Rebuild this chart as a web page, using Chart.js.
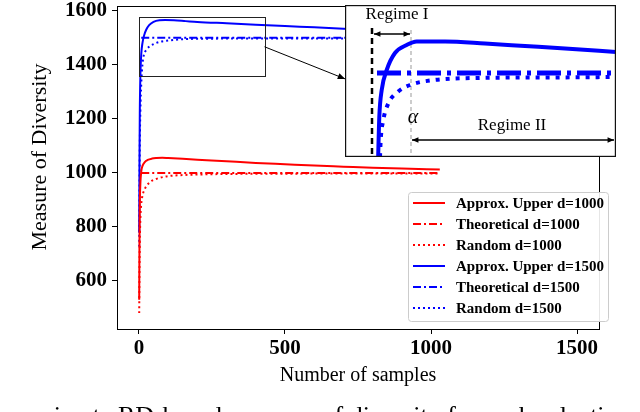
<!DOCTYPE html>
<html>
<head>
<meta charset="utf-8">
<script src="https://cdn.jsdelivr.net/npm/chart.js@4.4.0/dist/chart.umd.min.js"></script>
<style>
html,body{margin:0;padding:0;background:#fff;}
#wrap{position:relative;width:640px;height:412px;overflow:hidden;background:#fff;}
#main{position:absolute;left:0;top:0;width:640px;height:412px;}
#inset{position:absolute;left:345px;top:5px;width:271px;height:152px;background:#fff;}
</style>
</head>
<body>
<div id="wrap">
<canvas id="main" width="640" height="412"></canvas>
<canvas id="inset" width="271" height="152"></canvas>
</div>
<script>
// ---------- data ----------
const xTicks = [0, 500, 1000, 1500];
const yTicks = [600, 800, 1000, 1200, 1400, 1600];

const seriesLabels = ['Approx. Upper d=1000', 'Theoretical d=1000', 'Random d=1000',
                      'Approx. Upper d=1500', 'Theoretical d=1500', 'Random d=1500'];

const upper1000X = [1, 2, 3, 5, 8, 12, 20, 30, 45, 60, 80, 100, 150, 200, 300, 400, 500, 600, 700, 800, 900, 1030];
const upper1000Y = [530, 760, 880, 960, 1005, 1025, 1040, 1048, 1053, 1055, 1056, 1055, 1052, 1049, 1043, 1037, 1032, 1027, 1023, 1019, 1016, 1013];
const theory1000X = [8, 1030];
const theory1000Y = [1000, 1000];
const random1000X = [1, 2, 3, 5, 8, 12, 17, 25, 40, 60, 100, 150, 200, 300, 500, 700, 1030];
const random1000Y = [481, 640, 740, 830, 885, 915, 933, 950, 968, 978, 988, 992, 994, 996, 997, 998, 998];

const upper1500X = [1, 2, 3, 5, 8, 12, 18, 25, 35, 50, 70, 90, 120, 160, 200, 300, 400, 500, 600, 700, 800, 1000, 1200, 1500];
const upper1500Y = [778, 1050, 1220, 1360, 1440, 1480, 1510, 1530, 1547, 1559, 1565, 1566, 1565, 1562, 1559, 1554, 1549, 1544, 1539, 1534, 1530, 1523, 1517, 1510];
const theory1500X = [8, 1500];
const theory1500Y = [1500, 1500];
const random1500X = [1, 2, 3, 5, 8, 12, 17, 25, 35, 50, 70, 100, 150, 250, 400, 700, 1000, 1500];
const random1500Y = [727, 950, 1100, 1230, 1330, 1400, 1437, 1455, 1467, 1477, 1485, 1490, 1495, 1497, 1498, 1498, 1499, 1499];

// inset (zoomed view of d=1500 curves)
const insetUpperX = [33, 34.3, 36.7, 41.7, 50, 61.7, 71.7, 100, 140, 180, 220, 271];
const insetUpperY = [1320, 1412, 1466, 1506, 1540, 1556, 1563, 1563, 1559, 1554, 1549, 1542];
const insetTheoryX = [32, 271];
const insetTheoryY = [1500, 1500];
const insetRandomX = [35, 35.7, 38.3, 43.3, 53.3, 65, 85, 128, 200, 271];
const insetRandomY = [1332, 1366, 1406, 1439, 1463, 1476, 1485, 1490, 1491, 1492];
const insetRegimeBoundary = 27;   // black dashed line
const insetAlpha = 66;            // grey dashed line (alpha)

// ---------- styles / annotation config ----------
const SERIF = "'Liberation Serif', 'Times New Roman', serif";
const RED = '#ff0000', BLUE = '#0000ff';
const zoomRegion = { x0: 0, x1: 430, y0: 1359, y1: 1578 };
const connector = { x0: 430, y0: 1467, x1: 706, y1: 1348 };

function pairs(xs, ys) { return xs.map((v, i) => ({ x: v, y: ys[i] })); }

const styleList = [
  { color: RED, dash: [], width: 2 },
  { color: RED, dash: [8, 3, 2, 3], width: 2 },
  { color: RED, dash: [2, 3], width: 2 },
  { color: BLUE, dash: [], width: 2 },
  { color: BLUE, dash: [8, 3, 2, 3], width: 2 },
  { color: BLUE, dash: [2, 3], width: 2 }
];
const seriesData = [
  pairs(upper1000X, upper1000Y), pairs(theory1000X, theory1000Y), pairs(random1000X, random1000Y),
  pairs(upper1500X, upper1500Y), pairs(theory1500X, theory1500Y), pairs(random1500X, random1500Y)
];

const datasets = seriesLabels.map((lab, i) => ({
  label: lab,
  data: seriesData[i],
  borderColor: styleList[i].color,
  backgroundColor: styleList[i].color,
  borderWidth: styleList[i].width,
  borderDash: styleList[i].dash,
  borderCapStyle: 'butt',
  pointRadius: 0,
  fill: false,
  cubicInterpolationMode: 'monotone'
}));

function arrowHead(ctx, x0, y0, x1, y1, size) {
  const ang = Math.atan2(y1 - y0, x1 - x0);
  ctx.beginPath();
  ctx.moveTo(x1, y1);
  ctx.lineTo(x1 - size * Math.cos(ang - 0.4), y1 - size * Math.sin(ang - 0.4));
  ctx.lineTo(x1 - size * Math.cos(ang + 0.4), y1 - size * Math.sin(ang + 0.4));
  ctx.closePath();
  ctx.fill();
}

const mainDecor = {
  id: 'mainDecor',
  afterDatasetsDraw(chart) {
    const { ctx, chartArea: a, scales: { x, y } } = chart;
    ctx.save();
    // top & right frame
    ctx.strokeStyle = '#000'; ctx.lineWidth = 1; ctx.setLineDash([]);
    ctx.beginPath();
    ctx.moveTo(a.left, a.top + 0.5); ctx.lineTo(a.right + 0.5, a.top + 0.5); ctx.lineTo(a.right + 0.5, a.bottom);
    ctx.stroke();
    // zoom region rectangle
    const bx0 = x.getPixelForValue(zoomRegion.x0), bx1 = x.getPixelForValue(zoomRegion.x1);
    const by0 = y.getPixelForValue(zoomRegion.y1), by1 = y.getPixelForValue(zoomRegion.y0);
    ctx.strokeStyle = '#222';
    ctx.strokeRect(Math.round(bx0) + 0.5, Math.round(by0) + 0.5, Math.round(bx1 - bx0), Math.round(by1 - by0));
    // connector arrow
    const cx0 = x.getPixelForValue(connector.x0), cy0 = y.getPixelForValue(connector.y0);
    const cx1 = x.getPixelForValue(connector.x1), cy1 = y.getPixelForValue(connector.y1);
    ctx.strokeStyle = '#000'; ctx.fillStyle = '#000';
    ctx.beginPath(); ctx.moveTo(cx0, cy0); ctx.lineTo(cx1, cy1); ctx.stroke();
    arrowHead(ctx, cx0, cy0, cx1, cy1, 8);
    // legend
    const lx = 408, ly = 192, lw = 200, lh = 129;
    ctx.fillStyle = 'rgba(255,255,255,0.9)';
    ctx.strokeStyle = '#cccccc';
    ctx.beginPath();
    ctx.roundRect(lx + 0.5, ly + 0.5, lw, lh, 3);
    ctx.fill(); ctx.stroke();
    chart.data.datasets.forEach((ds, i) => {
      const ry = 203 + i * 21;
      ctx.strokeStyle = ds.borderColor;
      ctx.lineWidth = ds.borderWidth;
      ctx.setLineDash(ds.borderDash);
      ctx.beginPath(); ctx.moveTo(413, ry); ctx.lineTo(445, ry); ctx.stroke();
      ctx.setLineDash([]);
      ctx.fillStyle = '#000';
      ctx.font = 'bold 15px ' + SERIF;
      ctx.textAlign = 'left'; ctx.textBaseline = 'middle';
      ctx.fillText(ds.label, 456, ry + 1);
    });
    // axis titles
    ctx.fillStyle = '#000';
    ctx.font = '20px ' + SERIF;
    ctx.textAlign = 'center'; ctx.textBaseline = 'middle';
    ctx.fillText('Number of samples', (a.left + a.right) / 2, 376);
    ctx.save();
    ctx.translate(40, 157);
    ctx.rotate(-Math.PI / 2);
    ctx.font = '22px ' + SERIF;
    ctx.fillText('Measure of Diversity', 0, 0);
    ctx.restore();
    // caption (cut off by the page)
    ctx.font = '26px ' + SERIF;
    ctx.textBaseline = 'alphabetic';
    ctx.textAlign = 'right';
    ctx.fillText('approximate ', 118, 424);
    ctx.textAlign = 'left';
    ctx.fillText('RD-based measure of diversity for each selection', 118, 424);
    ctx.restore();
  }
};

const tickFont = { family: SERIF, size: 21, weight: 'bold' };
const plainTick = v => String(v);

new Chart(document.getElementById('main'), {
  type: 'line',
  data: { datasets: datasets },
  options: {
    responsive: false,
    animation: false,
    layout: { padding: { top: 6, right: 41, left: 0, bottom: 0 } },
    plugins: { legend: { display: false }, tooltip: { enabled: false } },
    scales: {
      x: {
        type: 'linear', min: -75, max: 1575,
        afterBuildTicks: s => { s.ticks = xTicks.map(v => ({ value: v })); },
        afterFit: s => { s.height = 83; s.paddingLeft = 0; s.paddingRight = 0; },
        ticks: { font: tickFont, color: '#000', padding: 2, maxRotation: 0, autoSkip: false, callback: plainTick },
        grid: { drawOnChartArea: false, drawTicks: true, tickLength: 5, tickColor: '#000', color: '#000' },
        border: { display: true, color: '#000', width: 1 }
      },
      y: {
        type: 'linear', min: 422, max: 1618,
        afterBuildTicks: s => { s.ticks = yTicks.map(v => ({ value: v })); },
        afterFit: s => { s.width = 117; s.paddingTop = 0; s.paddingBottom = 0; },
        ticks: { font: tickFont, color: '#000', padding: 5, autoSkip: false, callback: plainTick },
        grid: { drawOnChartArea: false, drawTicks: true, tickLength: 5, tickColor: '#000', color: '#000' },
        border: { display: true, color: '#000', width: 1 }
      }
    }
  },
  plugins: [mainDecor]
});

// ---------- inset chart ----------
function dblArrow(ctx, x0, y, x1) {
  ctx.beginPath(); ctx.moveTo(x0, y); ctx.lineTo(x1, y); ctx.stroke();
  arrowHead(ctx, x1, y, x0, y, 7);
  arrowHead(ctx, x0, y, x1, y, 7);
}

const insetDecor = {
  id: 'insetDecor',
  beforeDatasetsDraw(chart) {
    const { ctx, chartArea: a, scales: { x, y } } = chart;
    ctx.save();
    ctx.fillStyle = '#fff';
    ctx.fillRect(0, 0, chart.width, chart.height);
    // grey alpha line
    const gx = x.getPixelForValue(insetAlpha);
    ctx.strokeStyle = '#999'; ctx.lineWidth = 1; ctx.setLineDash([4, 3]);
    ctx.beginPath(); ctx.moveTo(gx, y.getPixelForValue(1586)); ctx.lineTo(gx, a.bottom); ctx.stroke();
    // black boundary line
    const bx = x.getPixelForValue(insetRegimeBoundary);
    ctx.strokeStyle = '#000'; ctx.lineWidth = 2.5; ctx.setLineDash([6, 4]);
    ctx.beginPath(); ctx.moveTo(bx, y.getPixelForValue(1590)); ctx.lineTo(bx, a.bottom); ctx.stroke();
    ctx.restore();
  },
  afterDraw(chart) {
    const { ctx, chartArea: a, scales: { x, y } } = chart;
    ctx.save();
    ctx.strokeStyle = '#000'; ctx.fillStyle = '#000'; ctx.lineWidth = 1.3; ctx.setLineDash([]);
    dblArrow(ctx, x.getPixelForValue(insetRegimeBoundary + 2), y.getPixelForValue(1578), x.getPixelForValue(insetAlpha - 1));
    dblArrow(ctx, x.getPixelForValue(insetAlpha + 1), y.getPixelForValue(1366), x.getPixelForValue(269));
    ctx.font = '17px ' + SERIF;
    ctx.textAlign = 'center'; ctx.textBaseline = 'middle';
    ctx.fillText('Regime I', x.getPixelForValue(52), y.getPixelForValue(1616));
    ctx.fillText('Regime II', x.getPixelForValue(167), y.getPixelForValue(1394));
    ctx.font = 'italic 20px ' + SERIF;
    ctx.fillText('α', x.getPixelForValue(68), y.getPixelForValue(1410));
    // border
    ctx.lineWidth = 1.2; ctx.strokeStyle = '#111';
    ctx.strokeRect(0.6, 0.6, chart.width - 1.2, chart.height - 1.2);
    ctx.restore();
  }
};

new Chart(document.getElementById('inset'), {
  type: 'line',
  data: {
    datasets: [
      { label: 'Approx. Upper d=1500', data: pairs(insetUpperX, insetUpperY), borderColor: BLUE, borderWidth: 4,
        pointRadius: 0, fill: false, cubicInterpolationMode: 'monotone' },
      { label: 'Theoretical d=1500', data: pairs(insetTheoryX, insetTheoryY), borderColor: BLUE, borderWidth: 5,
        borderDash: [24, 6, 4, 6], borderCapStyle: 'butt', pointRadius: 0, fill: false },
      { label: 'Random d=1500', data: pairs(insetRandomX, insetRandomY), borderColor: BLUE, borderWidth: 4,
        borderDash: [4, 6], borderCapStyle: 'butt', pointRadius: 0, fill: false, cubicInterpolationMode: 'monotone' }
    ]
  },
  options: {
    responsive: false,
    animation: false,
    layout: { padding: 0 },
    plugins: { legend: { display: false }, tooltip: { enabled: false } },
    scales: {
      x: { type: 'linear', min: 0, max: 271, display: false },
      y: { type: 'linear', min: 1332, max: 1636, display: false }
    }
  },
  plugins: [insetDecor]
});
</script>
</body>
</html>
